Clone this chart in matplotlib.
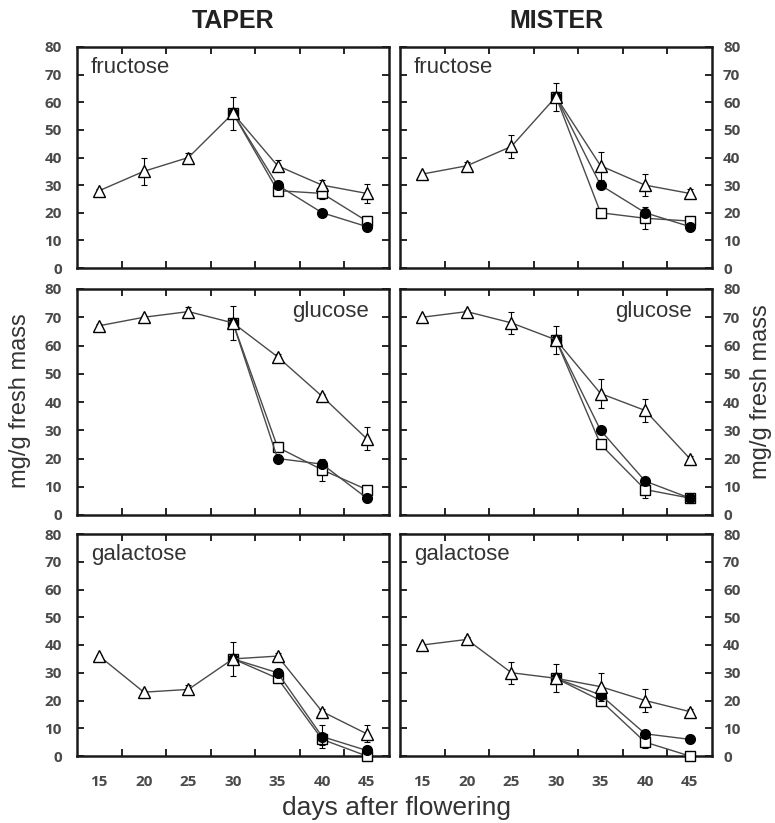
#!/usr/bin/env python3
"""
Sugar content (fructose, glucose, galactose) after flowering, TAPER vs MISTER
"""

import numpy as np
import matplotlib
matplotlib.use('Agg')
import matplotlib.pyplot as plt

# days after flowering
days = [15, 20, 25, 30, 35, 40, 45]
late_days = [30, 35, 40, 45]

cultivars = ['TAPER', 'MISTER']
sugars = ['fructose', 'glucose', 'galactose']

# open triangles (whole season)
taper_fru_tri = [28, 35, 40, 56, 37, 30, 27]
taper_fru_tri_err = [0.5, 5, 1.5, 6, 2, 2, 3.5]
mister_fru_tri = [34, 37, 44, 62, 37, 30, 27]
mister_fru_tri_err = [0.5, 1.5, 4, 5, 5, 4, 1.5]
taper_glu_tri = [67, 70, 72, 68, 56, 42, 27]
taper_glu_tri_err = [0.5, 0.5, 1.5, 6, 1, 1, 4]
mister_glu_tri = [70, 72, 68, 62, 43, 37, 20]
mister_glu_tri_err = [0.5, 0.5, 4, 5, 5, 4, 1]
taper_gal_tri = [36, 23, 24, 35, 36, 16, 8]
taper_gal_tri_err = [0.5, 0.5, 1.5, 6, 1, 1, 3]
mister_gal_tri = [40, 42, 30, 28, 25, 20, 16]
mister_gal_tri_err = [0.5, 1, 4, 5, 5, 4, 1]

# filled circles (from day 30)
taper_fru_circ = [56, 30, 20, 15]
taper_fru_circ_err = [0, 1, 1, 1]
mister_fru_circ = [62, 30, 20, 15]
mister_fru_circ_err = [0, 1, 1, 1]
taper_glu_circ = [68, 20, 18, 6]
taper_glu_circ_err = [0, 1, 1, 1]
mister_glu_circ = [62, 30, 12, 6]
mister_glu_circ_err = [0, 1, 1, 0.5]
taper_gal_circ = [35, 30, 7, 2]
taper_gal_circ_err = [0, 1, 4, 1]
mister_gal_circ = [28, 22, 8, 6]
mister_gal_circ_err = [0, 1, 1, 1]

# open squares (from day 30)
taper_fru_sq = [56, 28, 27, 17]
taper_fru_sq_err = [0, 1, 2, 2]
mister_fru_sq = [62, 20, 18, 17]
mister_fru_sq_err = [0, 1, 4, 1]
taper_glu_sq = [68, 24, 16, 9]
taper_glu_sq_err = [0, 1, 4, 1]
mister_glu_sq = [62, 25, 9, 6]
mister_glu_sq_err = [0, 1, 3, 1]
taper_gal_sq = [35, 28, 6, 0]
taper_gal_sq_err = [0, 1, 2, 0]
mister_gal_sq = [28, 20, 5, 0]
mister_gal_sq_err = [0, 1, 2, 0]

panels = {
    ('TAPER', 'fructose'): (taper_fru_tri, taper_fru_tri_err, taper_fru_circ, taper_fru_circ_err, taper_fru_sq, taper_fru_sq_err),
    ('MISTER', 'fructose'): (mister_fru_tri, mister_fru_tri_err, mister_fru_circ, mister_fru_circ_err, mister_fru_sq, mister_fru_sq_err),
    ('TAPER', 'glucose'): (taper_glu_tri, taper_glu_tri_err, taper_glu_circ, taper_glu_circ_err, taper_glu_sq, taper_glu_sq_err),
    ('MISTER', 'glucose'): (mister_glu_tri, mister_glu_tri_err, mister_glu_circ, mister_glu_circ_err, mister_glu_sq, mister_glu_sq_err),
    ('TAPER', 'galactose'): (taper_gal_tri, taper_gal_tri_err, taper_gal_circ, taper_gal_circ_err, taper_gal_sq, taper_gal_sq_err),
    ('MISTER', 'galactose'): (mister_gal_tri, mister_gal_tri_err, mister_gal_circ, mister_gal_circ_err, mister_gal_sq, mister_gal_sq_err),
}

LINE = '#4a4a4a'
LABEL = '#4a4a4a'
plt.rcParams['font.family'] = ['Liberation Sans', 'DejaVu Sans']


def draw_series(ax, x, y, err, marker, face, ms, z):
    x = np.asarray(x, dtype=float)
    y = np.asarray(y, dtype=float)
    err = np.asarray(err, dtype=float)
    ax.plot(x, y, '-', color=LINE, linewidth=1.0, zorder=z)
    m = err > 0
    ax.errorbar(x[m], y[m], yerr=err[m], fmt='none', ecolor='black',
                elinewidth=0.8, capsize=2.5, capthick=0.8, zorder=z + 0.1)
    ax.plot(x, y, linestyle='none', marker=marker, markersize=ms,
            markerfacecolor=face, markeredgecolor='black', markeredgewidth=1.0,
            zorder=z + 0.2, clip_on=False)


fig = plt.figure(figsize=(7.75, 8.23), dpi=100)

col_x = [77 / 775, 400 / 775]
col_w = 312 / 775
row_y = [(823 - 268) / 823, (823 - 515) / 823, (823 - 756) / 823]
row_h = [221 / 823, 226 / 823, 222 / 823]

mids = [(a + b) / 2 for a, b in zip(days[:-1], days[1:])]

for r, sugar in enumerate(sugars):
    for c, cult in enumerate(cultivars):
        ax = fig.add_axes([col_x[c], row_y[r], col_w, row_h[r]])
        tri, tri_err, circ, circ_err, sq, sq_err = panels[(cult, sugar)]

        draw_series(ax, late_days, sq, sq_err, 's', 'white', 6.5, 3)
        draw_series(ax, late_days, circ, circ_err, 'o', 'black', 7, 4)
        draw_series(ax, days, tri, tri_err, '^', 'white', 8, 5)

        ax.set_xlim(days[0] - 2.5, days[-1] + 2.5)
        ax.set_ylim(0, 80)

        ax.set_yticks(range(0, 81, 10))
        ax.set_xticks(days)
        ax.set_xticks(mids, minor=True)
        ax.tick_params(axis='x', which='major', length=0, pad=14,
                       labelbottom=(r == 2), labelsize=11, labelcolor=LABEL)
        ax.tick_params(axis='x', which='minor', direction='in', length=5,
                       width=1.2, top=True, bottom=True)
        ax.tick_params(axis='y', direction='in', length=5, width=1.2,
                       left=True, right=True,
                       labelleft=(c == 0), labelright=(c == 1),
                       labelsize=11, labelcolor=LABEL,
                       pad=(11 if c == 0 else 8))
        for lab in ax.get_xticklabels() + ax.get_yticklabels():
            lab.set_fontfamily('Open Sans')
            lab.set_fontweight('bold')

        for sp in ax.spines.values():
            sp.set_linewidth(1.8)
            sp.set_color('#1a1a1a')

        if sugar == 'glucose':
            ax.text(0.935, 0.945, sugar, transform=ax.transAxes, ha='right',
                    va='top', fontsize=16, color='#333333')
        else:
            ax.text(0.045, 0.955, sugar, transform=ax.transAxes, ha='left',
                    va='top', fontsize=16, color='#333333')

for c, cult in enumerate(cultivars):
    fig.text(col_x[c] + col_w / 2, 1 - 21 / 823, cult, ha='center', va='center',
             fontsize=18, fontweight='bold', color='#222222',
             family=['Liberation Sans Narrow', 'Liberation Sans'])

fig.text(20 / 775, 1 - 401 / 823, 'mg/g fresh mass', rotation=90,
         ha='center', va='center', fontsize=17, color='#333333')
fig.text(761 / 775, 1 - 392 / 823, 'mg/g fresh mass', rotation=90,
         ha='center', va='center', fontsize=17, color='#333333')
fig.text(397 / 775, 1 - 808 / 823, 'days after flowering', ha='center',
         va='center', fontsize=19, color='#333333')

fig.savefig('out.png', dpi=100)
